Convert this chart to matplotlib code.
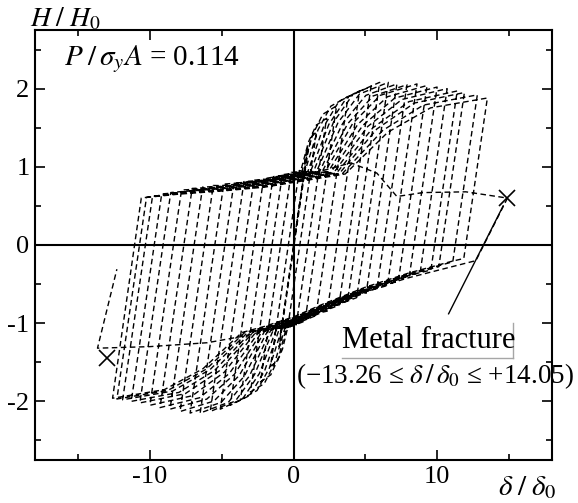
import numpy as np
import matplotlib
matplotlib.use('Agg')
import matplotlib.pyplot as plt

plt.rcParams['font.family'] = ['Liberation Serif', 'DejaVu Serif']
plt.rcParams['mathtext.fontset'] = 'stix'
plt.rcParams['axes.unicode_minus'] = False

# peak points of every cycle
pos_peak_x = [1.0, 1.6, 2.3, 3.0, 3.8, 4.6, 5.4, 6.0, 6.6, 7.2, 7.9, 8.6, 9.3,
              10.0, 10.7, 11.4, 11.9, 12.8, 13.5]
pos_peak_y = [1.25, 1.45, 1.62, 1.78, 1.9, 1.97, 2.03, 2.08, 2.08, 2.06, 2.05,
              2.06, 2.04, 2.02, 2.0, 1.97, 1.95, 1.92, 1.88]
neg_peak_x = [-1.0, -1.6, -2.3, -3.0, -3.7, -4.4, -5.1, -5.8, -6.5, -7.2, -7.9,
              -8.6, -9.3, -10.0, -10.7, -11.3, -11.9, -12.3, -12.6]
neg_peak_y = [-1.3, -1.55, -1.75, -1.88, -1.98, -2.05, -2.1, -2.13, -2.15, -2.15,
              -2.13, -2.1, -2.08, -2.05, -2.02, -2.0, -1.98, -1.97, -1.96]
# where each branch leaves its plateau and starts to harden towards the peak
rise_start_x = [0.3, 0.4, 0.5, 0.6, 0.8, 1.0, 1.2, 1.4, 1.6, 1.8, 2.0, 2.2, 2.4,
                2.6, 2.8, 3.0, 3.2, 3.4, 3.6]
drop_start_x = [-0.3, -0.4, -0.5, -0.6, -0.8, -1.0, -1.2, -1.4, -1.6, -1.8, -2.0,
                -2.2, -2.4, -2.6, -2.8, -3.0, -3.2, -3.4, -3.6]
# small level change of the plateaus from cycle to cycle
upper_shift = [0.08, 0.08, 0.07, 0.07, 0.06, 0.05, 0.05, 0.04, 0.03, 0.02, 0.02,
               0.01, 0.0, -0.01, -0.02, -0.03, -0.04, -0.05, -0.06]
lower_shift = [-0.06, -0.06, -0.05, -0.05, -0.04, -0.04, -0.03, -0.02, -0.02, -0.01,
               0.0, 0.0, 0.01, 0.02, 0.03, 0.03, 0.04, 0.05, 0.06]

# common plateau parts of the loading / unloading branches
upper_plateau_x = [-14.0, -11.0, -8.0, -5.0, -2.0, 0.0, 2.0, 4.0, 6.0]
upper_plateau_y = [0.5, 0.64, 0.71, 0.75, 0.8, 0.86, 0.92, 0.98, 1.02]
lower_plateau_x = [-6.0, -4.0, -2.0, 0.0, 2.0, 5.0, 8.0, 11.0, 14.0]
lower_plateau_y = [-1.28, -1.2, -1.1, -0.98, -0.82, -0.6, -0.42, -0.27, -0.12]

# last (fracture) part of the record
frac_x = [-12.6, -10.6, -6.0, -2.0, 0.0, 2.0, 4.0, 5.8, 7.2, 9.0, 12.0, 14.9,
          12.7, 8.0, 3.0, 0.0, -3.0, -6.0, -10.0, -13.65, -12.3]
frac_y = [-1.96, 0.6, 0.72, 0.8, 0.86, 0.95, 1.05, 0.92, 0.62, 0.67, 0.68, 0.6,
          -0.2, -0.42, -0.7, -0.98, -1.15, -1.25, -1.3, -1.32, -0.31]

cross_x = [-13.0, 14.9]
cross_y = [-1.45, 0.6]

slope = 1.25


def bend(x0, y0, xp, yp):
    # hardening part of a branch, bending over near the peak
    return ([x0 + 0.3 * (xp - x0), x0 + 0.6 * (xp - x0), xp],
            [y0 + 0.55 * (yp - y0), y0 + 0.87 * (yp - y0), yp])


def meet(x0, y0, px, py, k, direction):
    xs = x0 + direction * np.linspace(0, 8, 800)
    line = y0 + k * (xs - x0)
    plat = np.interp(xs, px, py)
    hit = (line >= plat) if direction > 0 else (line <= plat)
    i = np.argmax(hit)
    return xs[i], line[i]


fig = plt.figure(figsize=(5.78, 5.03), dpi=100)
ax = fig.add_axes([0.0606, 0.0855, 0.8944, 0.8549])

path_x, path_y = [0.0], [0.0]
for i in range(len(pos_peak_x)):
    xn = neg_peak_x[i - 1] if i > 0 else 0.0
    yn = neg_peak_y[i - 1] if i > 0 else 0.0
    up_y = [v + upper_shift[i] for v in upper_plateau_y]
    lo_y = [v + lower_shift[i] for v in lower_plateau_y]
    # reloading up to the upper plateau, along it, then hardening to the peak
    mx, my = meet(xn, yn, upper_plateau_x, up_y, slope, 1)
    path_x.append(mx); path_y.append(my)
    xs = max(mx, rise_start_x[i])
    for px_, py_ in zip(upper_plateau_x, up_y):
        if mx < px_ < xs:
            path_x.append(px_); path_y.append(py_)
    ys = np.interp(xs, upper_plateau_x, up_y)
    path_x.append(xs); path_y.append(ys)
    bx, by = bend(xs, ys, pos_peak_x[i], pos_peak_y[i])
    path_x += bx; path_y += by
    # unloading down to the lower plateau, along it, then down to the negative peak
    mx, my = meet(pos_peak_x[i], pos_peak_y[i], lower_plateau_x, lo_y, slope, -1)
    path_x.append(mx); path_y.append(my)
    xs = min(mx, drop_start_x[i])
    for px_, py_ in zip(lower_plateau_x[::-1], lo_y[::-1]):
        if xs < px_ < mx:
            path_x.append(px_); path_y.append(py_)
    ys = np.interp(xs, lower_plateau_x, lo_y)
    path_x.append(xs); path_y.append(ys)
    bx, by = bend(xs, ys, neg_peak_x[i], neg_peak_y[i])
    path_x += bx; path_y += by

path_x += frac_x
path_y += frac_y

ax.plot(path_x, path_y, color='black', lw=1.0, ls=(0, (4, 2.5)))
ax.plot(cross_x, cross_y, ls='none', marker='x', ms=12, mew=1.2, color='black')

ax.axhline(0, color='black', lw=1.5)
ax.axvline(0, color='black', lw=1.5)

ax.set_xlim(-18, 18)
ax.set_ylim(-2.75, 2.75)
ax.set_xticks([-10, 0, 10])
ax.set_xticks([-15, -5, 5, 15], minor=True)
ax.set_yticks([-2, -1, 0, 1, 2])
ax.set_yticks([-2.5, -1.5, -0.5, 0.5, 1.5, 2.5], minor=True)
ax.tick_params(which='both', direction='in', top=True, right=True, labelsize=19, width=1.2)
ax.tick_params(which='major', length=7, pad=4)
ax.tick_params(which='minor', length=4)
for s in ax.spines.values():
    s.set_linewidth(1.5)

fig.text(0.052, 0.948, r'$H\;/\;H_0$', fontsize=20)
fig.text(0.862, 0.016, r'$\delta\;/\;\delta_0$', fontsize=21)
ax.text(-16.0, 2.3, r'$P\;/\,\sigma_y A$ = 0.114', fontsize=21)

ax.text(3.4, -1.32, 'Metal fracture', fontsize=22)
ax.plot([3.4, 15.3], [-1.45, -1.45], color='0.65', lw=1.0)
ax.plot([15.3, 15.3], [-1.45, -1.0], color='0.65', lw=1.0)
ax.plot([10.8, 14.6], [-0.88, 0.5], color='black', lw=1.0)
ax.text(0.2, -1.77, '(−13.26 ≤ ' + r'$\delta\,/\,\delta_0$' + ' ≤ +14.05)', fontsize=19.5)

fig.savefig('out.png', dpi=100)
